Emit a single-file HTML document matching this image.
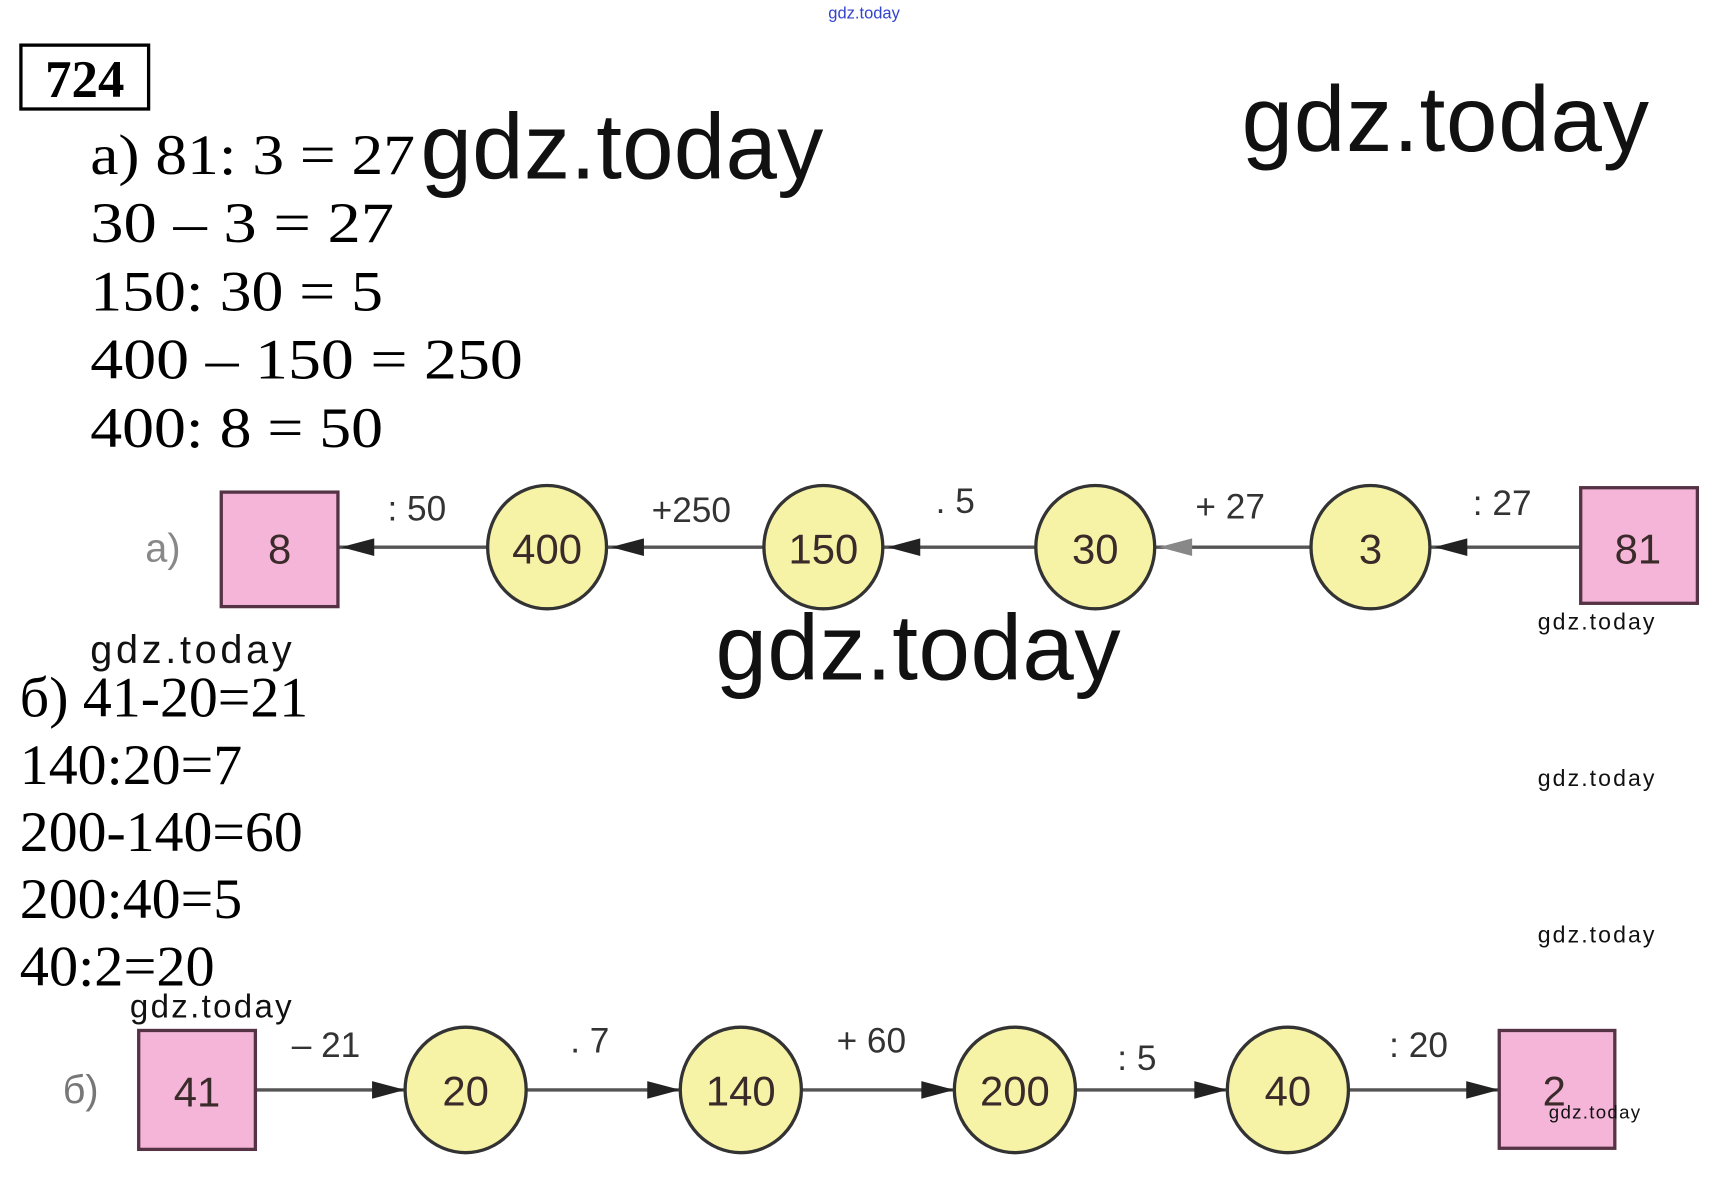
<!DOCTYPE html>
<html><head><meta charset="utf-8"><style>
html,body{margin:0;padding:0;background:#fff;}
svg{display:block;}
.wm{font-family:"Liberation Sans",sans-serif;font-weight:normal;fill:#111;}
.eq{font-family:"Liberation Serif",serif;fill:#000;}
.lb{font-family:"Liberation Sans",sans-serif;fill:#333;}
.nd{font-family:"Liberation Sans",sans-serif;fill:#3a2a2a;}
</style></head><body>
<svg width="1726" height="1178" viewBox="0 0 1568 1070" preserveAspectRatio="none" xmlns="http://www.w3.org/2000/svg">
<rect width="1568" height="1070" fill="#fff"/>
<text x="785" y="17" class="lb" font-size="15" text-anchor="middle" style="fill:#3344cc">gdz.today</text>
<rect x="19" y="41" width="116" height="58" fill="none" stroke="#000" stroke-width="3"/>
<text x="77" y="88" class="eq" font-size="48" font-weight="bold" text-anchor="middle">724</text>

<g class="eq" font-size="52">
<text x="82" y="158" textLength="295" lengthAdjust="spacingAndGlyphs">а) 81: 3 = 27</text>
<text x="82" y="220" textLength="276" lengthAdjust="spacingAndGlyphs">30 – 3 = 27</text>
<text x="82" y="282" textLength="266" lengthAdjust="spacingAndGlyphs">150: 30 = 5</text>
<text x="82" y="344" textLength="393" lengthAdjust="spacingAndGlyphs">400 – 150 = 250</text>
<text x="82" y="406" textLength="266" lengthAdjust="spacingAndGlyphs">400: 8 = 50</text>
</g>
<text x="382" y="162" class="wm" font-size="84" textLength="366">gdz.today</text>
<text x="1128" y="137" class="wm" font-size="84" textLength="370">gdz.today</text>

<g stroke="#555" stroke-width="3">
<line x1="307" y1="497" x2="442" y2="497"/>
<line x1="552" y1="497" x2="693" y2="497"/>
<line x1="803" y1="497" x2="940" y2="497"/>
<line x1="1050" y1="497" x2="1190" y2="497"/>
<line x1="1300" y1="497" x2="1435" y2="497"/>
</g>
<g fill="#222">
<polygon points="310,497 340,489 340,505"/>
<polygon points="555,497 585,489 585,505"/>
<polygon points="806,497 836,489 836,505"/>
<polygon points="1053,497 1083,489 1083,505" fill="#888"/>
<polygon points="1303,497 1333,489 1333,505"/>
</g>
<text x="132" y="510" class="lb" font-size="36" style="fill:#888">а)</text>
<rect x="201" y="447" width="106" height="104" fill="#f4b5d8" stroke="#553344" stroke-width="3"/>
<text x="254" y="512" class="nd" font-size="38" text-anchor="middle">8</text>
<g fill="#f6f3a6" stroke="#333" stroke-width="3">
<ellipse cx="497" cy="497" rx="54" ry="56"/>
<ellipse cx="748" cy="497" rx="54" ry="56"/>
<ellipse cx="995" cy="497" rx="54" ry="56"/>
<ellipse cx="1245" cy="497" rx="54" ry="56"/>
</g>
<g class="nd" font-size="38" text-anchor="middle">
<text x="497" y="512">400</text><text x="748" y="512">150</text><text x="995" y="512">30</text><text x="1245" y="512">3</text>
</g>
<rect x="1436" y="443" width="106" height="105" fill="#f4b5d8" stroke="#553344" stroke-width="3"/>
<text x="1488" y="512" class="nd" font-size="38" text-anchor="middle">81</text>
<g class="lb" font-size="32">
<text x="352" y="473">: 50</text><text x="592" y="474">+250</text><text x="850" y="466">. 5</text>
<text x="1086" y="471">+ 27</text><text x="1338" y="468">: 27</text>
</g>
<text x="1397" y="572" class="wm" font-size="21" textLength="106">gdz.today</text>
<text x="82" y="602" class="wm" font-size="36" textLength="183">gdz.today</text>
<text x="650" y="617" class="wm" font-size="84" textLength="368">gdz.today</text>

<g class="eq" font-size="52">
<text x="18" y="651" textLength="262" lengthAdjust="spacingAndGlyphs">б) 41-20=21</text>
<text x="18" y="712" textLength="202" lengthAdjust="spacingAndGlyphs">140:20=7</text>
<text x="18" y="773" textLength="257" lengthAdjust="spacingAndGlyphs">200-140=60</text>
<text x="18" y="834" textLength="202" lengthAdjust="spacingAndGlyphs">200:40=5</text>
<text x="18" y="895" textLength="177" lengthAdjust="spacingAndGlyphs">40:2=20</text>
</g>
<text x="1397" y="714" class="wm" font-size="21" textLength="106">gdz.today</text>
<text x="1397" y="856" class="wm" font-size="21" textLength="106">gdz.today</text>
<text x="118" y="924" class="wm" font-size="30" textLength="147">gdz.today</text>

<g stroke="#555" stroke-width="3">
<line x1="232" y1="990" x2="368" y2="990"/>
<line x1="478" y1="990" x2="618" y2="990"/>
<line x1="728" y1="990" x2="867" y2="990"/>
<line x1="977" y1="990" x2="1115" y2="990"/>
<line x1="1225" y1="990" x2="1362" y2="990"/>
</g>
<g fill="#222">
<polygon points="368,990 338,982 338,998"/>
<polygon points="618,990 588,982 588,998"/>
<polygon points="867,990 837,982 837,998"/>
<polygon points="1115,990 1085,982 1085,998"/>
<polygon points="1362,990 1332,982 1332,998"/>
</g>
<text x="57" y="1002" class="lb" font-size="36" style="fill:#777">б)</text>
<rect x="126" y="936" width="106" height="108" fill="#f4b5d8" stroke="#553344" stroke-width="3"/>
<text x="179" y="1005" class="nd" font-size="38" text-anchor="middle">41</text>
<g fill="#f6f3a6" stroke="#333" stroke-width="3">
<ellipse cx="423" cy="990" rx="55" ry="57"/>
<ellipse cx="673" cy="990" rx="55" ry="57"/>
<ellipse cx="922" cy="990" rx="55" ry="57"/>
<ellipse cx="1170" cy="990" rx="55" ry="57"/>
</g>
<g class="nd" font-size="38" text-anchor="middle">
<text x="423" y="1004">20</text><text x="673" y="1004">140</text><text x="922" y="1004">200</text><text x="1170" y="1004">40</text>
</g>
<rect x="1362" y="936" width="105" height="107" fill="#f4b5d8" stroke="#553344" stroke-width="3"/>
<text x="1412" y="1004" class="nd" font-size="38" text-anchor="middle">2</text>
<g class="lb" font-size="32">
<text x="265" y="960">– 21</text><text x="518" y="956">. 7</text><text x="760" y="956">+ 60</text>
<text x="1015" y="972">: 5</text><text x="1262" y="960">: 20</text>
</g>
<text x="1407" y="1016" class="wm" font-size="17" textLength="83">gdz.today</text>
</svg>
</body></html>
